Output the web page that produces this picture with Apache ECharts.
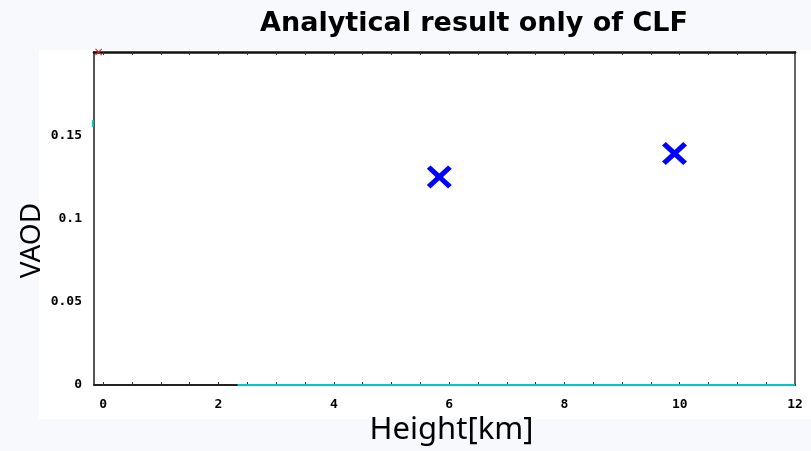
<!DOCTYPE html>
<html>
<head>
<meta charset="utf-8">
<style>
  html, body { margin: 0; padding: 0; background: #f7f9fc; }
  #chart { width: 811px; height: 451px; }
</style>
<script src="https://cdn.jsdelivr.net/npm/echarts@6/dist/echarts.min.js"></script>
</head>
<body>
<div id="chart"></div>
<script>
// Retrieved aerosol layers: height [km] and vertical aerosol optical depth
const clfHeights = [5.83, 9.91];
const clfVaod = [0.125, 0.139];

// Reference curve running along the floor of the plot
const baseHeights = [2.33, 12];
const baseVaod = [0, 0];

// Edge markers sitting on the frame
const edgeRed = [[-0.08, 0.2]];
const edgeCyan = [[-0.18, 0.157]];

// Axis ranges and labels
const xRange = [-0.16, 12];
const yRange = [0, 0.2];
const xLabels = [0, 2, 4, 6, 8, 10, 12];
const xMinorTicks = [0, 0.5, 1, 1.5, 2, 2.5, 3, 3.5, 4, 4.5, 5, 5.5, 6, 6.5, 7, 7.5, 8, 8.5, 9, 9.5, 10, 10.5, 11, 11.5];
const yLabels = [0, 0.05, 0.1, 0.15];

const crossPath = 'path://M3,0 L10,7 L17,0 L20,3 L13,10 L20,17 L17,20 L10,13 L3,20 L0,17 L7,10 L0,3 Z';
const thinCross = 'path://M2,0 L10,8 L18,0 L20,2 L12,10 L20,18 L18,20 L10,12 L2,20 L0,18 L8,10 L0,2 Z';
const tickFont = { fontFamily: 'DejaVu Sans Mono', fontWeight: 'bold', fontSize: 13, color: '#000' };

const chart = echarts.init(document.getElementById('chart'), null, { renderer: 'canvas' });
chart.setOption({
  backgroundColor: '#f7f9fc',
  animation: false,
  title: {
    text: 'Analytical result only of CLF',
    left: 469, top: 5, textAlign: 'center',
    textStyle: { fontFamily: 'DejaVu Sans', fontWeight: 'bold', fontSize: 27, color: '#000' }
  },
  graphic: [{
    type: 'rect', z: -10, silent: true,
    shape: { x: 39, y: 50, width: 772, height: 369 },
    style: { fill: '#ffffff' }
  }],
  grid: { left: 94, right: 16, top: 52, bottom: 64 },
  xAxis: [{
    type: 'value', min: xRange[0], max: xRange[1], position: 'bottom',
    name: 'Height[km]', nameLocation: 'middle', nameGap: 30, nameMoveOverlap: false,
    nameTextStyle: { fontFamily: 'Noto Sans', fontSize: 31, color: '#000', padding: [0, 0, 0, 14] },
    axisLine: { show: true, onZero: false, lineStyle: { color: '#222', width: 2 } },
    axisTick: { show: true, inside: true, length: 3, customValues: xMinorTicks, lineStyle: { color: '#333', width: 1 } },
    axisLabel: { customValues: xLabels, margin: 13, ...tickFont },
    splitLine: { show: false }
  }, {
    type: 'value', min: xRange[0], max: xRange[1], position: 'top',
    axisLine: { show: true, onZero: false, lineStyle: { color: '#111', width: 2.5 } },
    axisTick: { show: true, inside: true, length: 3, customValues: xMinorTicks, lineStyle: { color: '#333', width: 1 } },
    axisLabel: { show: false },
    splitLine: { show: false }
  }],
  yAxis: [{
    type: 'value', min: yRange[0], max: yRange[1], position: 'left',
    name: 'VAOD', nameLocation: 'middle', nameGap: 48, nameRotate: 90, nameMoveOverlap: false,
    nameTextStyle: { fontFamily: 'Noto Sans', fontSize: 28, color: '#000', padding: [0, 44, 0, 0] },
    axisLine: { show: true, onZero: false, lineStyle: { color: '#555', width: 2 } },
    axisTick: { show: false },
    axisLabel: {
      customValues: yLabels, margin: 12, ...tickFont,
      formatter: v => String(+v.toFixed(2))
    },
    splitLine: { show: false }
  }, {
    type: 'value', min: yRange[0], max: yRange[1], position: 'right',
    axisLine: { show: true, onZero: false, lineStyle: { color: '#666', width: 2 } },
    axisTick: { show: false },
    axisLabel: { show: false },
    splitLine: { show: false }
  }],
  series: [{
    type: 'line', name: 'base',
    data: baseHeights.map((h, i) => [h, baseVaod[i]]),
    symbol: 'none', lineStyle: { color: '#00c8c8', width: 2 }, z: 3
  }, {
    type: 'scatter', name: 'CLF',
    data: clfHeights.map((h, i) => [h, clfVaod[i]]),
    symbol: crossPath, symbolSize: [25, 23],
    itemStyle: { color: '#0000ff', opacity: 1 }, z: 5
  }, {
    type: 'scatter', name: 'edgeRed', data: edgeRed, clip: false,
    symbol: thinCross, symbolSize: 7, itemStyle: { color: '#e02020', opacity: 1 }, z: 6
  }, {
    type: 'scatter', name: 'edgeCyan', data: edgeCyan, clip: false,
    symbol: 'rect', symbolSize: [2, 7], itemStyle: { color: '#00c8c8', opacity: 1 }, z: 6
  }]
});
</script>
</body>
</html>
